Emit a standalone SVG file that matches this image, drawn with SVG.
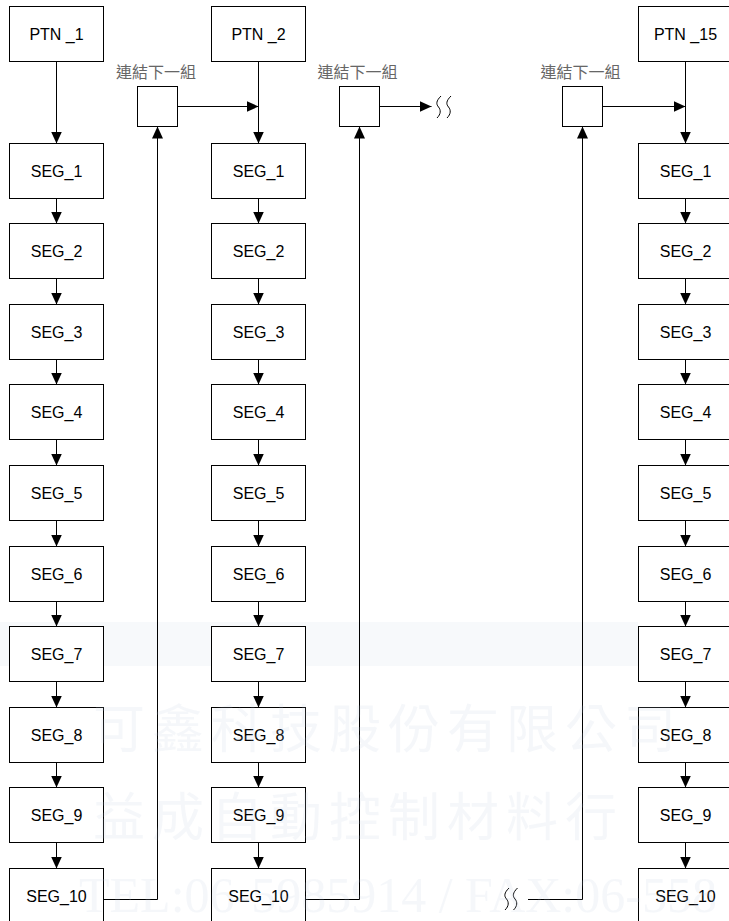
<svg xmlns="http://www.w3.org/2000/svg" width="729" height="921" viewBox="0 0 729 921">
<style>
.box{fill:#fff;stroke:#000;stroke-width:1}
.t{font-family:"Liberation Sans",Arial,sans-serif;font-size:16px;fill:#000;text-anchor:middle}
.lbl{font-family:"Liberation Sans","Noto Sans CJK TC",sans-serif;font-size:16px;fill:#666;text-anchor:middle}
.ln{fill:none;stroke:#000;stroke-width:1}
.wm{font-family:"Noto Sans CJK TC",sans-serif;font-size:52px;letter-spacing:7px;fill:#b9cadb;fill-opacity:0.15}
.wm2{font-family:"Liberation Serif",serif;font-size:50px;fill:#b9cadb;fill-opacity:0.15}
</style>
<defs>
<marker id="ah" viewBox="0 0 12 12" refX="12" refY="6" markerWidth="12" markerHeight="12" markerUnits="userSpaceOnUse" orient="auto"><path d="M0,0.5 L12,6 L0,11.5 z" fill="#000"/></marker>
</defs>
<rect width="729" height="921" fill="#fff"/>
<g id="band"><rect x="0" y="622" width="638" height="44" fill="#f7f9fb"/></g>
<g id="connectors">
<path class="ln" d="M56.5,61.5 V143.5" marker-end="url(#ah)"/>
<path class="ln" d="M56.5,198.5 V223.5" marker-end="url(#ah)"/>
<path class="ln" d="M56.5,278.5 V304.5" marker-end="url(#ah)"/>
<path class="ln" d="M56.5,359.5 V384.5" marker-end="url(#ah)"/>
<path class="ln" d="M56.5,439.5 V465.5" marker-end="url(#ah)"/>
<path class="ln" d="M56.5,520.5 V546.5" marker-end="url(#ah)"/>
<path class="ln" d="M56.5,601.5 V626.5" marker-end="url(#ah)"/>
<path class="ln" d="M56.5,681.5 V707.5" marker-end="url(#ah)"/>
<path class="ln" d="M56.5,762.5 V787.5" marker-end="url(#ah)"/>
<path class="ln" d="M56.5,842.5 V868.5" marker-end="url(#ah)"/>
<path class="ln" d="M258.5,61.5 V143.5" marker-end="url(#ah)"/>
<path class="ln" d="M258.5,198.5 V223.5" marker-end="url(#ah)"/>
<path class="ln" d="M258.5,278.5 V304.5" marker-end="url(#ah)"/>
<path class="ln" d="M258.5,359.5 V384.5" marker-end="url(#ah)"/>
<path class="ln" d="M258.5,439.5 V465.5" marker-end="url(#ah)"/>
<path class="ln" d="M258.5,520.5 V546.5" marker-end="url(#ah)"/>
<path class="ln" d="M258.5,601.5 V626.5" marker-end="url(#ah)"/>
<path class="ln" d="M258.5,681.5 V707.5" marker-end="url(#ah)"/>
<path class="ln" d="M258.5,762.5 V787.5" marker-end="url(#ah)"/>
<path class="ln" d="M258.5,842.5 V868.5" marker-end="url(#ah)"/>
<path class="ln" d="M685.5,61.5 V143.5" marker-end="url(#ah)"/>
<path class="ln" d="M685.5,198.5 V223.5" marker-end="url(#ah)"/>
<path class="ln" d="M685.5,278.5 V304.5" marker-end="url(#ah)"/>
<path class="ln" d="M685.5,359.5 V384.5" marker-end="url(#ah)"/>
<path class="ln" d="M685.5,439.5 V465.5" marker-end="url(#ah)"/>
<path class="ln" d="M685.5,520.5 V546.5" marker-end="url(#ah)"/>
<path class="ln" d="M685.5,601.5 V626.5" marker-end="url(#ah)"/>
<path class="ln" d="M685.5,681.5 V707.5" marker-end="url(#ah)"/>
<path class="ln" d="M685.5,762.5 V787.5" marker-end="url(#ah)"/>
<path class="ln" d="M685.5,842.5 V868.5" marker-end="url(#ah)"/>
<path class="ln" d="M177.5,106.5 H258.5" marker-end="url(#ah)"/>
<path class="ln" d="M379.5,106.5 H431.5" marker-end="url(#ah)"/>
<path class="ln" d="M602.5,106.5 H685.5" marker-end="url(#ah)"/>
<path class="ln" d="M103.5,899.5 H157.5 V126.5" marker-end="url(#ah)"/>
<path class="ln" d="M305.5,899.5 H359.5 V126.5" marker-end="url(#ah)"/>
<path class="ln" d="M528,899.5 H582.5 V126.5" marker-end="url(#ah)"/>
<path class="ln" d="M441,96 C436,101 436,104 438.5,107 C441,110 441,114 437,118"/>
<path class="ln" d="M451,96 C446,101 446,104 448.5,107 C451,110 451,114 447,118"/>
<path class="ln" d="M509,888 C504,893 504,896 506.5,899 C509,902 509,906 505,910"/>
<path class="ln" d="M517.5,888 C512.5,893 512.5,896 515,899 C517.5,902 517.5,906 513.5,910"/>
</g>
<g id="link1"><rect class="box" x="137.5" y="86.5" width="40" height="40"/><text class="lbl" x="156" y="78">連結下一組</text></g>
<g id="link2"><rect class="box" x="339.5" y="86.5" width="40" height="40"/><text class="lbl" x="357.5" y="78">連結下一組</text></g>
<g id="link3"><rect class="box" x="562.5" y="86.5" width="40" height="40"/><text class="lbl" x="580.5" y="78">連結下一組</text></g>
<g id="col1">
<g id="ptn1"><rect class="box" x="9.5" y="6.5" width="94" height="55"/><text class="t" x="56.5" y="39.8">PTN _1</text></g>
<g id="c1s1"><rect class="box" x="9.5" y="143.5" width="94" height="55"/><text class="t" x="56.5" y="176.8">SEG_1</text></g>
<g id="c1s2"><rect class="box" x="9.5" y="223.5" width="94" height="55"/><text class="t" x="56.5" y="256.8">SEG_2</text></g>
<g id="c1s3"><rect class="box" x="9.5" y="304.5" width="94" height="55"/><text class="t" x="56.5" y="337.8">SEG_3</text></g>
<g id="c1s4"><rect class="box" x="9.5" y="384.5" width="94" height="55"/><text class="t" x="56.5" y="417.8">SEG_4</text></g>
<g id="c1s5"><rect class="box" x="9.5" y="465.5" width="94" height="55"/><text class="t" x="56.5" y="498.8">SEG_5</text></g>
<g id="c1s6"><rect class="box" x="9.5" y="546.5" width="94" height="55"/><text class="t" x="56.5" y="579.8">SEG_6</text></g>
<g id="c1s7"><rect class="box" x="9.5" y="626.5" width="94" height="55"/><text class="t" x="56.5" y="659.8">SEG_7</text></g>
<g id="c1s8"><rect class="box" x="9.5" y="707.5" width="94" height="55"/><text class="t" x="56.5" y="740.8">SEG_8</text></g>
<g id="c1s9"><rect class="box" x="9.5" y="787.5" width="94" height="55"/><text class="t" x="56.5" y="820.8">SEG_9</text></g>
<g id="c1s10"><rect class="box" x="9.5" y="868.5" width="94" height="55"/><text class="t" x="56.5" y="901.8">SEG_10</text></g>
</g>
<g id="col2">
<g id="ptn2"><rect class="box" x="211.5" y="6.5" width="94" height="55"/><text class="t" x="258.5" y="39.8">PTN _2</text></g>
<g id="c2s1"><rect class="box" x="211.5" y="143.5" width="94" height="55"/><text class="t" x="258.5" y="176.8">SEG_1</text></g>
<g id="c2s2"><rect class="box" x="211.5" y="223.5" width="94" height="55"/><text class="t" x="258.5" y="256.8">SEG_2</text></g>
<g id="c2s3"><rect class="box" x="211.5" y="304.5" width="94" height="55"/><text class="t" x="258.5" y="337.8">SEG_3</text></g>
<g id="c2s4"><rect class="box" x="211.5" y="384.5" width="94" height="55"/><text class="t" x="258.5" y="417.8">SEG_4</text></g>
<g id="c2s5"><rect class="box" x="211.5" y="465.5" width="94" height="55"/><text class="t" x="258.5" y="498.8">SEG_5</text></g>
<g id="c2s6"><rect class="box" x="211.5" y="546.5" width="94" height="55"/><text class="t" x="258.5" y="579.8">SEG_6</text></g>
<g id="c2s7"><rect class="box" x="211.5" y="626.5" width="94" height="55"/><text class="t" x="258.5" y="659.8">SEG_7</text></g>
<g id="c2s8"><rect class="box" x="211.5" y="707.5" width="94" height="55"/><text class="t" x="258.5" y="740.8">SEG_8</text></g>
<g id="c2s9"><rect class="box" x="211.5" y="787.5" width="94" height="55"/><text class="t" x="258.5" y="820.8">SEG_9</text></g>
<g id="c2s10"><rect class="box" x="211.5" y="868.5" width="94" height="55"/><text class="t" x="258.5" y="901.8">SEG_10</text></g>
</g>
<g id="col3">
<g id="ptn15"><rect class="box" x="638.5" y="6.5" width="94" height="55"/><text class="t" x="685.5" y="39.8">PTN _15</text></g>
<g id="c3s1"><rect class="box" x="638.5" y="143.5" width="94" height="55"/><text class="t" x="685.5" y="176.8">SEG_1</text></g>
<g id="c3s2"><rect class="box" x="638.5" y="223.5" width="94" height="55"/><text class="t" x="685.5" y="256.8">SEG_2</text></g>
<g id="c3s3"><rect class="box" x="638.5" y="304.5" width="94" height="55"/><text class="t" x="685.5" y="337.8">SEG_3</text></g>
<g id="c3s4"><rect class="box" x="638.5" y="384.5" width="94" height="55"/><text class="t" x="685.5" y="417.8">SEG_4</text></g>
<g id="c3s5"><rect class="box" x="638.5" y="465.5" width="94" height="55"/><text class="t" x="685.5" y="498.8">SEG_5</text></g>
<g id="c3s6"><rect class="box" x="638.5" y="546.5" width="94" height="55"/><text class="t" x="685.5" y="579.8">SEG_6</text></g>
<g id="c3s7"><rect class="box" x="638.5" y="626.5" width="94" height="55"/><text class="t" x="685.5" y="659.8">SEG_7</text></g>
<g id="c3s8"><rect class="box" x="638.5" y="707.5" width="94" height="55"/><text class="t" x="685.5" y="740.8">SEG_8</text></g>
<g id="c3s9"><rect class="box" x="638.5" y="787.5" width="94" height="55"/><text class="t" x="685.5" y="820.8">SEG_9</text></g>
<g id="c3s10"><rect class="box" x="638.5" y="868.5" width="94" height="55"/><text class="t" x="685.5" y="901.8">SEG_10</text></g>
</g>
<g id="watermark">
<text class="wm" x="93" y="748">可鑫科技股份有限公司</text>
<text class="wm" x="93" y="836">益成自動控制材料行</text>
<text class="wm2" x="79" y="912">TEL:06-5985914 / FAX:06-558</text>
</g>
</svg>
